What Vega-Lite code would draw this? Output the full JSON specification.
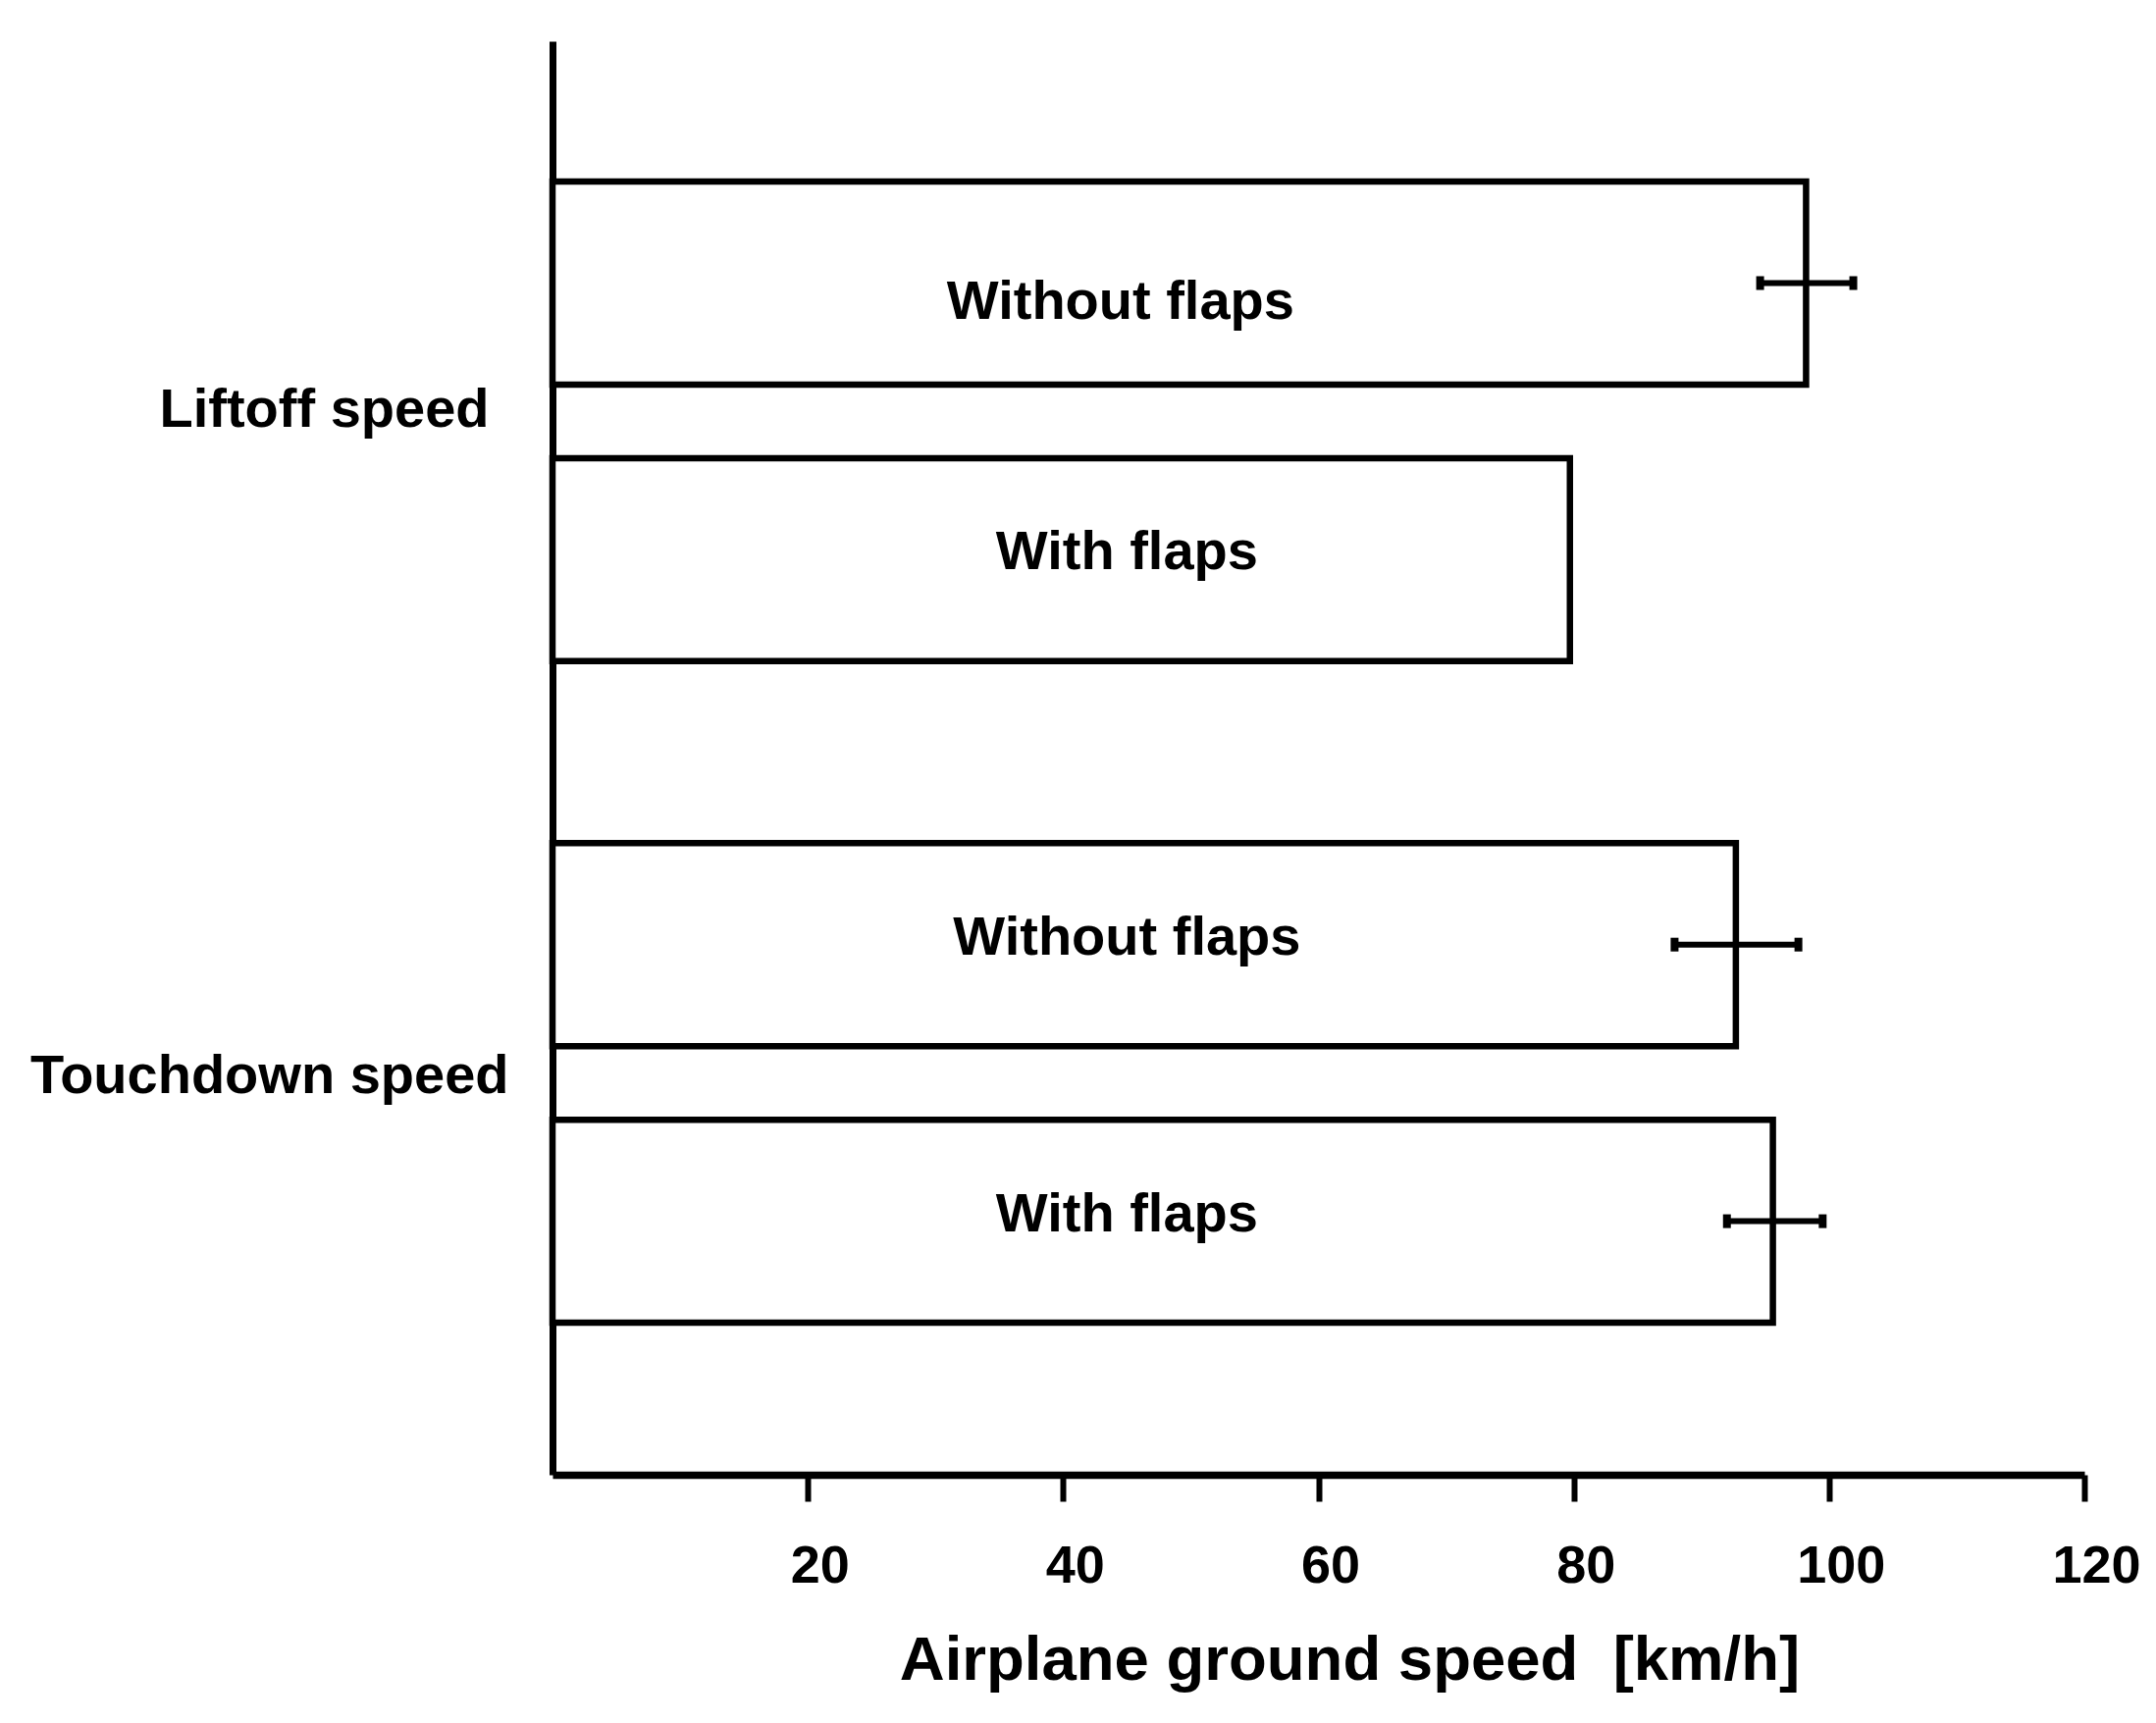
{
  "$schema": "https://vega.github.io/schema/vega-lite/v6.json",
  "autosize": "none",
  "padding": {"left": 563, "top": 42, "right": 73, "bottom": 253},
  "width": 1561,
  "height": 1461,
  "background": "white",
  "config": {
    "view": {"stroke": null},
    "axis": {"grid": false, "labelFont": "Liberation Sans", "titleFont": "Liberation Sans", "labelFontWeight": "bold", "titleFontWeight": "bold", "labelColor": "black", "titleColor": "black", "domainColor": "black", "tickColor": "black"}
  },
  "data": {
    "values": [
      {"group": "Liftoff speed", "flaps": "Without flaps", "speed": 98.2, "lo": 94.6, "hi": 101.9},
      {"group": "Liftoff speed", "flaps": "With flaps", "speed": 79.7, "lo": null, "hi": null},
      {"group": "Touchdown speed", "flaps": "Without flaps", "speed": 92.7, "lo": 87.9, "hi": 97.6},
      {"group": "Touchdown speed", "flaps": "With flaps", "speed": 95.6, "lo": 92.0, "hi": 99.5}
    ]
  },
  "encoding": {
    "y": {
      "field": "group", "type": "nominal",
      "scale": {"domain": ["Liftoff speed", "Touchdown speed"], "paddingInner": 0.275, "paddingOuter": 0.221, "align": 0.48},
      "axis": {
        "title": null, "ticks": false, "tickSize": 0, "domainWidth": 7, "labelAngle": 0,
        "labelFontSize": 56, "labelAlign": "right", "labelLimit": 0,
        "labelPadding": {"condition": {"test": "datum.value == 'Touchdown speed'", "value": 45}, "value": 65},
        "labelOffset": {"condition": {"test": "datum.value == 'Touchdown speed'", "value": -7}, "value": -11}
      }
    },
    "yOffset": {
      "field": "flaps", "type": "nominal",
      "scale": {"domain": ["Without flaps", "With flaps"], "paddingInner": 0.266, "paddingOuter": 0}
    }
  },
  "layer": [
    {
      "mark": {"type": "bar", "fill": "white", "stroke": "black", "strokeWidth": 6.5, "cornerRadius": 0},
      "encoding": {
        "x": {
          "field": "speed", "type": "quantitative",
          "scale": {"domain": [0, 120], "nice": false, "zero": true},
          "axis": {
            "values": [20, 40, 60, 80, 100, 120], "domainWidth": 7.5, "tickWidth": 6, "tickSize": 27,
            "labelFontSize": 54, "labelPadding": 39, "labelOffset": 12, "labelFlush": false,
            "title": "Airplane ground speed \u00a0[km/h]", "titleFontSize": 63.5, "titlePadding": 38, "titleX": 812
          }
        }
      }
    },
    {
      "transform": [{"filter": "datum.group == 'Liftoff speed' && datum.flaps == 'Without flaps'"}],
      "mark": {"type": "text", "font": "Liberation Sans", "fontWeight": "bold", "fontSize": 56, "color": "black", "baseline": "middle", "align": "center", "dy": 20},
      "encoding": {
        "x": {"datum": 44.5},
        "text": {"field": "flaps"}
      }
    },
    {
      "transform": [{"filter": "!(datum.group == 'Liftoff speed' && datum.flaps == 'Without flaps')"}],
      "mark": {"type": "text", "font": "Liberation Sans", "fontWeight": "bold", "fontSize": 56, "color": "black", "baseline": "middle", "align": "center", "dy": -7},
      "encoding": {
        "x": {"datum": 45},
        "text": {"field": "flaps"}
      }
    },
    {
      "transform": [{"filter": "datum.lo != null"}],
      "mark": {"type": "rule", "color": "black", "strokeWidth": 6},
      "encoding": {
        "x": {"field": "lo", "type": "quantitative"},
        "x2": {"field": "hi"}
      }
    },
    {
      "transform": [{"filter": "datum.lo != null"}],
      "mark": {"type": "tick", "color": "black", "opacity": 1, "size": 14, "thickness": 8, "orient": "vertical"},
      "encoding": {
        "x": {"field": "lo", "type": "quantitative"}
      }
    },
    {
      "transform": [{"filter": "datum.lo != null"}],
      "mark": {"type": "tick", "color": "black", "opacity": 1, "size": 14, "thickness": 8, "orient": "vertical"},
      "encoding": {
        "x": {"field": "hi", "type": "quantitative"}
      }
    }
  ]
}
